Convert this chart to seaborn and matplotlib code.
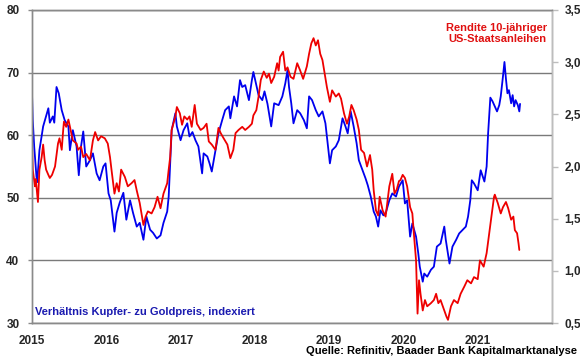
import matplotlib
matplotlib.use("Agg")
import matplotlib.pyplot as plt
import seaborn as sns
import pandas as pd
from matplotlib.ticker import FuncFormatter, FixedLocator

# ---- data (decimal years) ----
blue_t = [2015.00, 2015.01, 2015.03, 2015.06, 2015.07, 2015.10, 2015.15, 2015.22, 2015.24, 2015.28,
          2015.30, 2015.33, 2015.36, 2015.40, 2015.44, 2015.49, 2015.51, 2015.55, 2015.60, 2015.63,
          2015.66, 2015.69, 2015.73, 2015.78, 2015.82, 2015.87, 2015.91, 2015.96, 2015.99, 2016.03,
          2016.06, 2016.11, 2016.14, 2016.18, 2016.23, 2016.27, 2016.32, 2016.36, 2016.41, 2016.45,
          2016.50, 2016.54, 2016.59, 2016.63, 2016.68, 2016.73, 2016.77, 2016.82, 2016.84, 2016.86,
          2016.88, 2016.93, 2016.95, 2017.00, 2017.04, 2017.09, 2017.12, 2017.16, 2017.20, 2017.24,
          2017.29, 2017.31, 2017.36, 2017.39, 2017.42, 2017.47, 2017.51, 2017.56, 2017.60, 2017.65,
          2017.67, 2017.72, 2017.76, 2017.80, 2017.83, 2017.87, 2017.92, 2017.96, 2017.98, 2018.02,
          2018.05, 2018.10, 2018.13, 2018.17, 2018.22, 2018.26, 2018.32, 2018.37, 2018.41, 2018.44,
          2018.46, 2018.49, 2018.52, 2018.57, 2018.61, 2018.66, 2018.70, 2018.73, 2018.77, 2018.82,
          2018.86, 2018.91, 2018.95, 2018.97, 2019.01, 2019.04, 2019.09, 2019.13, 2019.18, 2019.22,
          2019.25, 2019.29, 2019.33, 2019.37, 2019.40, 2019.45, 2019.49, 2019.52, 2019.56, 2019.60,
          2019.63, 2019.66, 2019.69, 2019.73, 2019.76, 2019.81, 2019.85, 2019.90, 2019.94, 2019.99,
          2020.02, 2020.05, 2020.09, 2020.12, 2020.17, 2020.20, 2020.22, 2020.26, 2020.28, 2020.32,
          2020.37, 2020.41, 2020.45, 2020.50, 2020.55, 2020.57, 2020.62, 2020.66, 2020.71, 2020.75,
          2020.80, 2020.84, 2020.87, 2020.90, 2020.92, 2020.95, 2021.00, 2021.04, 2021.09, 2021.12,
          2021.14, 2021.17, 2021.20, 2021.23, 2021.26, 2021.29, 2021.31, 2021.34, 2021.36, 2021.38,
          2021.40, 2021.42, 2021.45, 2021.47, 2021.49, 2021.51, 2021.54, 2021.56, 2021.57]
blue_v = [66.7, 62.4, 58.1, 53.4, 52.5, 57.6, 61.4, 64.3, 62.0, 63.0,
          62.0, 67.7, 66.7, 64.0, 62.4, 61.4, 57.6, 60.8, 58.2, 53.6,
          58.2, 60.6, 55.0, 56.0, 57.1, 53.9, 52.8, 55.0, 55.5, 50.7,
          49.6, 44.6, 47.6, 49.2, 50.8, 46.5, 49.6, 47.6, 45.4, 46.0,
          43.3, 47.0, 44.9, 44.4, 43.5, 44.0, 46.0, 47.8, 50.2, 55.5,
          60.8, 63.5, 61.4, 59.2, 60.8, 61.9, 59.8, 60.5, 59.2, 58.2,
          53.9, 57.1, 56.6, 55.5, 54.2, 57.6, 60.3, 62.4, 64.0, 64.6,
          62.7, 66.2, 64.6, 68.8, 67.7, 68.0, 65.6, 68.8, 70.1, 68.0,
          66.4, 65.6, 67.0, 65.0, 61.4, 65.1, 64.8, 66.2, 68.3, 70.4,
          67.7, 65.1, 61.9, 64.0, 63.5, 62.4, 61.1, 66.2, 65.6, 64.0,
          63.0, 63.8, 61.9, 59.8, 55.5, 57.6, 58.2, 59.2, 62.7, 61.4,
          60.3, 63.8, 61.4, 58.7, 56.0, 54.4, 53.1, 52.0, 50.2, 47.8,
          47.0, 45.4, 48.0, 47.2, 47.5, 49.6, 50.7, 50.2, 51.8, 52.8,
          49.1, 49.6, 43.8, 45.9, 43.8, 41.1, 39.0, 36.6, 37.9, 37.4,
          38.5, 39.0, 42.2, 42.7, 45.4, 43.3, 39.5, 42.2, 43.3, 44.3,
          44.9, 45.4, 47.0, 49.6, 52.8, 52.3, 51.2, 54.4, 52.6, 55.0,
          60.3, 66.0, 65.4, 64.6, 63.8, 64.8, 66.2, 69.4, 71.7, 69.0,
          66.7, 67.2, 65.1, 66.4, 64.6, 65.6, 64.8, 63.8, 65.0]

red_t = [2015.00, 2015.01, 2015.04, 2015.05, 2015.08, 2015.10, 2015.13, 2015.15, 2015.17, 2015.19,
         2015.22, 2015.24, 2015.27, 2015.31, 2015.35, 2015.37, 2015.40, 2015.42, 2015.43, 2015.46,
         2015.49, 2015.52, 2015.55, 2015.60, 2015.62, 2015.66, 2015.69, 2015.73, 2015.78, 2015.82,
         2015.85, 2015.89, 2015.93, 2015.98, 2016.02, 2016.05, 2016.07, 2016.11, 2016.14, 2016.17,
         2016.20, 2016.25, 2016.29, 2016.34, 2016.38, 2016.41, 2016.45, 2016.50, 2016.53, 2016.56,
         2016.61, 2016.65, 2016.69, 2016.73, 2016.77, 2016.82, 2016.84, 2016.86, 2016.88, 2016.93,
         2016.95, 2016.99, 2017.02, 2017.05, 2017.09, 2017.12, 2017.15, 2017.19, 2017.22, 2017.27,
         2017.31, 2017.35, 2017.38, 2017.42, 2017.47, 2017.51, 2017.54, 2017.58, 2017.63, 2017.67,
         2017.71, 2017.74, 2017.78, 2017.83, 2017.87, 2017.92, 2017.96, 2017.98, 2018.02, 2018.05,
         2018.08, 2018.12, 2018.16, 2018.19, 2018.22, 2018.26, 2018.30, 2018.32, 2018.34, 2018.38,
         2018.41, 2018.44, 2018.48, 2018.52, 2018.57, 2018.61, 2018.65, 2018.70, 2018.73, 2018.76,
         2018.79, 2018.82, 2018.85, 2018.88, 2018.91, 2018.94, 2018.97, 2019.01, 2019.04, 2019.09,
         2019.13, 2019.16, 2019.20, 2019.24, 2019.27, 2019.30, 2019.33, 2019.37, 2019.40, 2019.43,
         2019.47, 2019.51, 2019.55, 2019.58, 2019.60, 2019.63, 2019.66, 2019.68, 2019.72, 2019.76,
         2019.81, 2019.85, 2019.88, 2019.91, 2019.94, 2019.96, 2019.99, 2020.02, 2020.05, 2020.09,
         2020.12, 2020.14, 2020.17, 2020.19, 2020.21, 2020.23, 2020.26, 2020.29, 2020.32, 2020.37,
         2020.41, 2020.44, 2020.47, 2020.50, 2020.55, 2020.58, 2020.60, 2020.64, 2020.68, 2020.73,
         2020.77, 2020.82, 2020.86, 2020.91, 2020.95, 2021.00, 2021.03, 2021.08, 2021.12, 2021.16,
         2021.19, 2021.22, 2021.23, 2021.27, 2021.31, 2021.34, 2021.38, 2021.41, 2021.45, 2021.48,
         2021.50, 2021.53, 2021.55, 2021.56]
red_v = [2.22, 1.97, 1.81, 1.88, 1.66, 1.97, 2.09, 2.21, 2.06, 1.97,
         1.92, 1.89, 1.92, 2.00, 2.22, 2.27, 2.16, 2.35, 2.43, 2.38,
         2.45, 2.35, 2.25, 2.22, 2.16, 2.19, 2.09, 2.12, 2.06, 2.25,
         2.33, 2.25, 2.29, 2.27, 2.22, 2.09, 1.97, 1.74, 1.84, 1.76,
         1.97, 1.90, 1.81, 1.84, 1.87, 1.77, 1.65, 1.44, 1.52, 1.57,
         1.55, 1.61, 1.71, 1.60, 1.74, 1.84, 1.97, 2.09, 2.35, 2.48,
         2.57, 2.51, 2.40, 2.48, 2.45, 2.48, 2.38, 2.59, 2.41, 2.35,
         2.37, 2.41, 2.24, 2.21, 2.16, 2.37, 2.32, 2.27, 2.21, 2.08,
         2.16, 2.32, 2.35, 2.38, 2.35, 2.38, 2.41, 2.49, 2.54, 2.67,
         2.83, 2.91, 2.85, 2.89, 2.80, 2.86, 2.99, 2.92, 3.05, 3.10,
         2.92, 2.95, 2.86, 2.84, 2.99, 2.92, 2.84, 2.96, 3.08, 3.18,
         3.23, 3.16, 3.21, 3.08, 3.02, 2.89, 2.76, 2.62, 2.73, 2.67,
         2.70, 2.65, 2.51, 2.41, 2.48, 2.59, 2.54, 2.45, 2.35, 2.16,
         2.13, 2.00, 2.11, 1.97, 1.77, 1.58, 1.53, 1.71, 1.58, 1.52,
         1.81, 1.93, 1.74, 1.78, 1.86, 1.87, 1.92, 1.89, 1.81, 1.61,
         1.55, 1.36, 1.10, 0.59, 0.91, 0.78, 0.62, 0.72, 0.66, 0.69,
         0.72, 0.78, 0.69, 0.72, 0.62, 0.56, 0.53, 0.66, 0.72, 0.69,
         0.78, 0.85, 0.91, 0.88, 0.94, 0.92, 1.10, 1.04, 1.17, 1.39,
         1.55, 1.71, 1.73, 1.65, 1.55, 1.61, 1.66, 1.60, 1.49, 1.52,
         1.39, 1.36, 1.26, 1.20]

years = [2015, 2016, 2017, 2018, 2019, 2020, 2021, 2022]
year_labels = ["2015", "2016", "2017", "2018", "2019", "2020", "2021", ""]
left_ticks = [30, 40, 50, 60, 70, 80]
right_ticks = [0.5, 1.0, 1.5, 2.0, 2.5, 3.0, 3.5]

blue_label = "Verhältnis Kupfer- zu Goldpreis, indexiert"
red_label = "Rendite 10-jähriger\nUS-Staatsanleihen"
source = "Quelle: Refinitiv, Baader Bank Kapitalmarktanalyse"

sns.set_style("white")
plt.rcParams['font.family'] = ['Liberation Sans', 'DejaVu Sans']
plt.rcParams['font.weight'] = 'bold'

fig = plt.figure(figsize=(5.8, 3.59), dpi=100)
ax = fig.add_axes([32/580, 36/359, 520/580, 313/359])
ax2 = ax.twinx()

df_b = pd.DataFrame({"t": blue_t, "v": blue_v})
df_r = pd.DataFrame({"t": red_t, "v": red_v})
sns.lineplot(data=df_b, x="t", y="v", ax=ax, color="#0000ee", lw=1.3, estimator=None, sort=False)
sns.lineplot(data=df_r, x="t", y="v", ax=ax2, color="#ee0000", lw=1.3, estimator=None, sort=False)

ax.set_xlim(2015, 2022)
ax.set_ylim(30, 80)
ax2.set_ylim(0.5, 3.5)
ax.set_xlabel("")
ax.set_ylabel("")
ax2.set_ylabel("")

ax.xaxis.set_major_locator(FixedLocator(years))
ax.set_xticklabels(year_labels)
ax.set_yticks(left_ticks)
ax2.set_yticks(right_ticks)
ax2.yaxis.set_major_formatter(FuncFormatter(lambda v, p: f"{v:.1f}".replace(".", ",")))

ax.yaxis.grid(True, color="#7a7a7a", lw=1.0)
ax.xaxis.grid(False)
ax.set_axisbelow(True)

for a in (ax, ax2):
    for s in a.spines.values():
        s.set_color("#8a8a8a")
        s.set_linewidth(1.0)
ax2.spines["right"].set_color("#bdbdbd")

ax.tick_params(axis="y", direction="out", length=3, width=1, color="#8a8a8a", pad=6, labelsize=8.5)
ax.tick_params(axis="x", direction="out", length=4, width=1, color="#8a8a8a", pad=5, labelsize=8.5)
ax2.tick_params(axis="y", direction="out", length=4, width=1, color="#bdbdbd", pad=5, labelsize=8.5)
for lab in ax.get_xticklabels() + ax.get_yticklabels() + ax2.get_yticklabels():
    lab.set_fontweight("bold")

ax.text(0.006, 0.035, blue_label, transform=ax.transAxes, color="#1a1ab0",
        fontsize=8, fontweight="bold", ha="left", va="center")
ax2.text(0.99, 0.925, red_label, transform=ax.transAxes, color="#e01010",
         fontsize=8, fontweight="bold", ha="right", va="center", linespacing=1.1)
fig.text(577/580, 1 - 351/359, source, color="black", fontsize=8,
         fontweight="bold", ha="right", va="center")

fig.savefig("out.png", dpi=100)
